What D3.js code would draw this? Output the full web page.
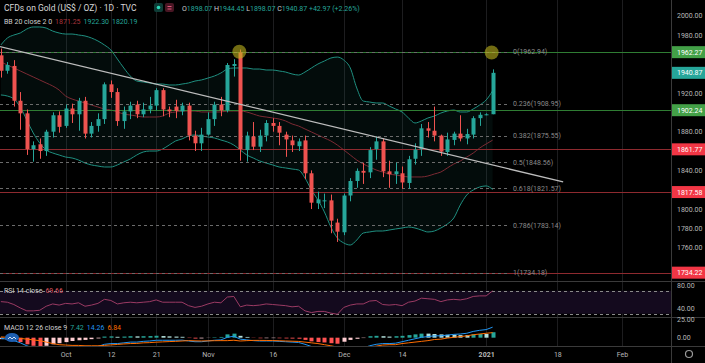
<!DOCTYPE html>
<html>
<head>
<meta charset="utf-8">
<script src="https://cdn.jsdelivr.net/npm/d3@7"></script>
<style>
  html, body { margin: 0; padding: 0; background: #000; }
  svg { display: block; font-family: Roboto, "Liberation Sans", sans-serif; }
</style>
</head>
<body>
<div id="chart"></div>
<script>
// daily candles, Sep 17 2020 .. Jan 4 2021 (bar index = position)
const opens  = [1959,1943,1948,1912,1899,1862,1867,1860,1880,1897,1886,1904,1898,1912,1878,1886,1893,1929,1921,1891,
                1901,1908,1898,1903,1907,1923,1903,1906,1901,1907,1876,1868,1877,1893,1908,1902,1948,1962,1861,1875,
                1864.5,1876,1889,1886,1877,1871,1865,1871,1837,1806,1808,1809,1786,1776,1814,1829,1839.5,1838,1862,1870,
                1839,1836,1837,1827,1852,1862,1883.5,1881,1876,1859,1871.5,1878,1873,1877,1894,1898,1898.07];
const highs  = [1966,1952,1954,1921,1903,1870,1873,1882,1900,1901,1908,1909,1915,1916,1890,1899,1931,1933,1925,1906,
                1911,1912,1910,1916,1925,1925,1906,1913,1910,1910,1881,1884,1900,1911,1916,1951,1955,1965,1880,1890,
                1882,1892,1894,1890,1880,1876,1873,1876,1840,1818,1816,1815,1790,1816,1832,1842,1848,1864,1875,1873,
                1850,1848,1844,1855,1868,1888,1890,1906,1877,1879,1880,1897,1883,1896,1900,1899,1944.45];
const lows   = [1936,1940,1906,1882,1856,1849,1852,1855,1874,1879,1884,1889,1881,1873,1874,1880,1888,1915,1886,1883,
                1893,1894,1895,1899,1902,1896,1895,1894,1897,1871,1860,1860,1876,1886,1896,1900,1937,1850,1849,1861,
                1859,1870,1880,1866,1854,1859,1860,1831,1800,1800,1801,1775,1766,1773,1808,1822,1826,1832,1851,1833,
                1822,1826,1821,1821,1846,1855,1874,1870,1855,1855,1866,1870,1867,1873,1886,1897,1898.07];
const closes = [1943,1949,1912,1899,1862,1866,1860,1880,1897,1885,1904,1898,1912,1878,1886,1893,1929,1921,1891,1901,
                1907,1898,1903,1907,1923,1903,1901,1901.5,1907,1876,1868,1877,1893,1908,1902,1949,1950,1862,1876,1864.5,
                1876,1889,1886,1879,1872,1866,1870,1837,1806.6,1810,1809,1788,1776.6,1814,1829,1839.5,1837.6,1861,1870,1839,
                1836,1839,1827.5,1851.5,1861.5,1883.5,1881,1876,1859.4,1872,1878,1873,1877.6,1894,1897.5,1898,1940.87];

// Bollinger bands 20, 2
const bbUpper = [1969.7,1976.9,1980.0,1982.1,1986.2,1988.3,1988.3,1987.2,1984.1,1982.1,1981.0,1981.0,1980.0,1979.0,1976.9,1973.8,1969.7,1964.5,1955.2,1945.9,
                 1937.6,1932.4,1931.4,1930.4,1929.3,1929.3,1928.3,1928.3,1929.3,1930.4,1932.4,1933.5,1935.5,1937.6,1940.7,1944.8,1945.9,1945.9,1945.9,1944.8,
                 1944.8,1943.8,1943.8,1942.8,1941.7,1939.7,1938.6,1941.7,1945.9,1950.0,1953.1,1956.2,1957.2,1954.1,1945.9,1925.2,1911.7,1910.7,1909.7,1909.7,
                 1906.6,1903.5,1900.4,1894.2,1889.0,1891.1,1894.2,1896.2,1899.3,1901.4,1902.4,1900.4,1900.4,1903.5,1907.6,1912.8,1922.3];
const bbBasis = [1952.1,1949.0,1945.9,1942.8,1939.7,1936.6,1933.5,1930.4,1927.3,1923.1,1916.9,1913.8,1911.7,1909.7,1907.6,1905.5,1903.5,1902.4,1900.4,1898.3,
                 1897.3,1896.2,1895.2,1895.2,1895.2,1896.2,1899.3,1900.4,1901.4,1901.4,1901.4,1900.4,1900.4,1900.4,1900.4,1901.4,1901.4,1901.4,1900.4,1898.3,
                 1896.2,1895.2,1894.2,1893.1,1891.1,1888.0,1885.9,1882.8,1879.7,1876.6,1873.5,1870.4,1866.2,1861.1,1855.9,1850.7,1846.6,1843.5,1840.4,1838.3,
                 1836.3,1835.2,1834.2,1833.2,1833.2,1833.2,1834.2,1836.3,1838.3,1842.5,1846.6,1849.7,1853.8,1857.9,1863.1,1867.3,1871.25];
const bbLower = [1918.0,1916.9,1913.8,1905.5,1892.1,1878.7,1868.3,1861.1,1858.0,1855.9,1853.8,1852.8,1850.7,1847.6,1845.6,1844.5,1843.5,1843.5,1845.6,1848.7,
                 1851.8,1855.9,1859.0,1860.0,1860.0,1862.1,1866.2,1870.4,1872.5,1875.6,1876.6,1875.6,1874.5,1873.5,1871.4,1869.4,1866.2,1861.1,1855.9,1852.8,
                 1849.7,1847.6,1845.6,1843.5,1842.5,1841.4,1840.4,1832.1,1819.7,1809.4,1797.0,1781.4,1770.1,1764.9,1762.8,1768.0,1775.2,1776.3,1777.3,1777.3,
                 1778.3,1779.4,1780.4,1781.4,1780.4,1778.3,1776.3,1777.3,1780.4,1784.5,1790.8,1804.2,1814.5,1819.7,1822.8,1823.9,1820.19];

// RSI 14
const rsi = [51,50,46,40,35,35,36,43,47,45,48,47,49,43,45,48,55,53,47,49,
             50,49,50,51,54,50,50,50,50,44,41,43,47,50,49,59,60,42,45,44,
             45,47,46,45,44,42,43,35,32,34,34,31,29,41,45,47,47,52,53,46,
             45,46,44,50,52,57,56,55,51,54,55,54,56,60,61,61,69.66];

// MACD 12 26 9
const macd   = [-1,-2,-4,-7,-11,-14,-16,-17,-17,-17,-16,-15,-14,-14,-13,-12,-9,-8,-8,-7,
                -6,-6,-5,-4.5,-3.5,-3.5,-3.5,-3.5,-3.3,-4.5,-5.5,-5.5,-4.5,-3.5,-3,0.5,2,-2,-3,-4,
                -4.5,-4.5,-4.5,-5,-5.5,-6,-6.5,-9,-12,-14,-16,-18.5,-21,-19,-17,-15.5,-14,-11,-9,-8,
                -8,-7.5,-5.5,-3.5,-1.5,0.5,1.5,2.5,2.5,3.5,4.5,5,6,8.5,10,11,14.26];
const signal = [1,0.5,0,-1,-2,-3,-4,-6,-8,-9.5,-10,-10.5,-10.5,-11,-11,-11,-10.5,-9.8,-9.2,-8.5,
                -8,-7.8,-7,-6.7,-6.1,-5.7,-5.3,-5,-4.5,-4,-4.3,-4.5,-4.3,-4.1,-4,-4,-3.5,-4.5,-4,-3.7,
                -3.7,-3.8,-3.9,-4.2,-4.5,-4.8,-5.1,-6,-7,-8,-9.5,-11,-12.8,-13.5,-14,-14,-13.5,-13,-11.5,-10,
                -9.5,-9.5,-8,-7,-6,-5,-4,-2.5,-2,-0.5,0.5,1.5,2.5,4,5,6,6.84];
const hist   = [-2,-2.5,-4,-6,-9,-11,-12,-11,-9,-7.5,-6,-4.5,-3.5,-3,-2,-1,1.5,1.8,1.2,1.5,
                2,1.8,2,2.2,2.6,2.2,1.8,1.5,1.2,-0.5,-1.2,-1,-0.2,0.6,1,4.5,5.5,2.5,1,-0.3,
                -0.8,-0.7,-0.6,-0.8,-1,-1.2,-1.4,-3,-5,-6,-6.5,-7.5,-8.2,-5.5,-3,-1.5,-0.5,2,2.5,2,
                1.5,2,2.5,3.5,4.5,5.5,5.5,5,4.5,4,4,3.5,3.5,4.5,5,5,7.42];

// time axis
const tickLabels = ['Oct', '12', '21', 'Nov', '16', 'Dec', '14', '2021', '18', 'Feb'];
const tickIndex  = [10, 17, 24, 32, 42, 53, 62, 75, 86, 96];

// drawings
const fibRatios = ['0', '0.236', '0.382', '0.5', '0.618', '0.786', '1'];
const fibPrices = [1962.94, 1908.95, 1875.55, 1848.56, 1821.57, 1783.14, 1734.18];
const fibEndIdx = 78.7;
const greenLevels = [1962.27, 1902.24];
const redLevels = [1861.77, 1817.58, 1734.22];
const trendIdx = [-0.15, 86.9];
const trendPrice = [1968.1, 1828.0];
const markIdx = [36.85, 75.85];
const markPrice = [1962.7, 1961.9];
const lastPrice = 1940.87;

const W = 705, H = 363, plotR = 671;
const UP = '#26a69a', DOWN = '#ef5350';

const x = d3.scaleLinear().domain([0, 103.57]).range([0.9, plotR]);
const yP = d3.scaleLinear().domain([1725.6, 2016.2]).range([281, 0]);
const yR = d3.scaleLinear().domain([24.3, 86]).range([317, 281.5]);
const yM = d3.scaleLinear().domain([-11.3, 28.1]).range([346, 317]);
const idx = d3.range(closes.length);

const svg = d3.select('#chart').append('svg')
    .attr('width', W).attr('height', H)
    .style('background', '#000');

const defs = svg.append('defs');
defs.append('clipPath').attr('id', 'clipMain')
    .append('rect').attr('x', 0).attr('y', 0).attr('width', plotR).attr('height', 281);
defs.append('clipPath').attr('id', 'clipMacd')
    .append('rect').attr('x', 0).attr('y', 317.5).attr('width', plotR).attr('height', 28.5);

// vertical grid
svg.append('g').selectAll('line').data(tickIndex).join('line')
    .attr('x1', d => Math.round(x(d)) + 0.5).attr('x2', d => Math.round(x(d)) + 0.5)
    .attr('y1', 0).attr('y2', 346)
    .attr('stroke', '#1d1d1f').attr('stroke-width', 1);

// RSI band background
svg.append('rect')
    .attr('x', 0).attr('y', yR(70)).attr('width', plotR).attr('height', yR(30) - yR(70))
    .attr('fill', '#140a1e');

const main = svg.append('g').attr('clip-path', 'url(#clipMain)');

// BB fill + lines
main.append('path')
    .datum(idx)
    .attr('fill', 'rgba(38,166,154,0.07)')
    .attr('d', d3.area().x(i => x(i)).y0(i => yP(bbLower[i])).y1(i => yP(bbUpper[i])).curve(d3.curveMonotoneX));

const bbLine = arr => d3.line().x(i => x(i)).y(i => yP(arr[i])).curve(d3.curveMonotoneX);
[[bbUpper, '#1f8f80'], [bbLower, '#1f8f80'], [bbBasis, '#7c2a33']].forEach(([arr, col]) => {
    main.append('path').datum(idx)
        .attr('fill', 'none').attr('stroke', col).attr('stroke-width', 1)
        .attr('d', bbLine(arr));
});

// horizontal levels
main.selectAll('line.green').data(greenLevels).join('line')
    .attr('class', 'green')
    .attr('x1', 0).attr('x2', plotR)
    .attr('y1', d => Math.round(yP(d)) + 0.5).attr('y2', d => Math.round(yP(d)) + 0.5)
    .attr('stroke', '#2f7d33').attr('stroke-width', 1);
main.selectAll('line.red').data(redLevels).join('line')
    .attr('class', 'red')
    .attr('x1', 0).attr('x2', plotR)
    .attr('y1', d => Math.round(yP(d)) + 0.5).attr('y2', d => Math.round(yP(d)) + 0.5)
    .attr('stroke', '#8e2a2f').attr('stroke-width', 1);

// fib levels
main.selectAll('line.fib').data(fibPrices).join('line')
    .attr('class', 'fib')
    .attr('x1', 0).attr('x2', x(fibEndIdx))
    .attr('y1', d => Math.round(yP(d)) + 0.5).attr('y2', d => Math.round(yP(d)) + 0.5)
    .attr('stroke', '#6b6b6b').attr('stroke-width', 1).attr('stroke-dasharray', '3,3');
main.selectAll('text.fib').data(fibPrices).join('text')
    .attr('class', 'fib')
    .attr('x', x(fibEndIdx) + 3).attr('y', d => yP(d)).attr('dy', '0.35em')
    .attr('fill', '#8a8a8a').style('font-size', '7px')
    .text((d, i) => `${fibRatios[i]}(${d.toFixed(2)})`);

// candles
const candle = main.append('g').selectAll('g').data(idx).join('g');
candle.append('line')
    .attr('x1', i => Math.round(x(i)) + 0.5).attr('x2', i => Math.round(x(i)) + 0.5)
    .attr('y1', i => yP(highs[i])).attr('y2', i => yP(lows[i]))
    .attr('stroke', i => closes[i] >= opens[i] ? UP : DOWN).attr('stroke-width', 1);
candle.append('rect')
    .attr('x', i => Math.round(x(i)) - 1.5).attr('width', 4)
    .attr('y', i => yP(Math.max(opens[i], closes[i])))
    .attr('height', i => Math.max(1, Math.abs(yP(opens[i]) - yP(closes[i]))))
    .attr('fill', i => closes[i] >= opens[i] ? UP : DOWN);

// trend line
main.append('line')
    .attr('x1', x(trendIdx[0])).attr('y1', yP(trendPrice[0]))
    .attr('x2', x(trendIdx[1])).attr('y2', yP(trendPrice[1]))
    .attr('stroke', '#bdbdbd').attr('stroke-width', 1.3);

// highlight circles
main.selectAll('circle.mark').data(markIdx).join('circle')
    .attr('class', 'mark')
    .attr('cx', d => x(d)).attr('cy', (d, i) => yP(markPrice[i])).attr('r', 7)
    .attr('fill', 'rgba(190,180,30,0.6)');

// RSI pane
svg.selectAll('line.rsiband').data([70, 30]).join('line')
    .attr('class', 'rsiband')
    .attr('x1', 0).attr('x2', plotR)
    .attr('y1', d => Math.round(yR(d)) + 0.5).attr('y2', d => Math.round(yR(d)) + 0.5)
    .attr('stroke', '#8a8a8a').attr('stroke-dasharray', '3,3');
svg.append('path').datum(idx)
    .attr('fill', 'none').attr('stroke', '#9b3a63').attr('stroke-width', 1)
    .attr('d', d3.line().x(i => x(i)).y(i => yR(rsi[i])));

// MACD pane
const mg = svg.append('g').attr('clip-path', 'url(#clipMacd)');
mg.selectAll('rect').data(idx).join('rect')
    .attr('x', i => Math.round(x(i)) - 1.5).attr('width', 4)
    .attr('y', i => Math.min(yM(0), yM(hist[i])))
    .attr('height', i => Math.abs(yM(hist[i]) - yM(0)))
    .attr('fill', i => {
        const prev = i > 0 ? hist[i - 1] : hist[i];
        if (hist[i] >= 0) return hist[i] > prev ? '#26a69a' : '#b2dfdb';
        return hist[i] < prev ? '#ff5252' : '#ffcdd2';
    });
mg.append('path').datum(idx)
    .attr('fill', 'none').attr('stroke', '#2196f3').attr('stroke-width', 1)
    .attr('d', d3.line().x(i => x(i)).y(i => yM(macd[i])));
mg.append('path').datum(idx)
    .attr('fill', 'none').attr('stroke', '#ff6d00').attr('stroke-width', 1)
    .attr('d', d3.line().x(i => x(i)).y(i => yM(signal[i])));

// pane separators and right border
svg.selectAll('line.sep').data([281.5, 317.5, 346.5]).join('line')
    .attr('class', 'sep')
    .attr('x1', 0).attr('x2', W).attr('y1', d => d).attr('y2', d => d)
    .attr('stroke', '#3a3a3a');
svg.append('line')
    .attr('x1', plotR + 0.5).attr('x2', plotR + 0.5).attr('y1', 0).attr('y2', H)
    .attr('stroke', '#3a3a3a');

// price tags (drawn over the price scale)
const tags = [
    ...greenLevels.map(v => ({ v, c: '#43a047' })),
    { v: lastPrice, c: UP },
    ...redLevels.map(v => ({ v, c: '#f23645' }))
];

// right axes; scale labels hidden under a tag are left out, as on the chart
const axisStyle = g => {
    g.select('.domain').remove();
    g.selectAll('text').attr('fill', '#b8b8b8').style('font-size', '7px')
        .style('font-family', 'Roboto, "Liberation Sans", sans-serif');
};
const priceTicks = d3.range(1740, 2001, 20)
    .filter(v => tags.every(t => Math.abs(yP(v) - yP(t.v)) > 9));
svg.append('g').attr('transform', `translate(${plotR + 1},0)`)
    .call(d3.axisRight(yP).tickValues(priceTicks).tickFormat(d3.format('.2f')).tickSize(0).tickPadding(5))
    .call(axisStyle);
svg.append('g').attr('transform', `translate(${plotR + 1},0)`)
    .call(d3.axisRight(yR).tickValues([80, 40]).tickFormat(d3.format('.2f')).tickSize(0).tickPadding(5))
    .call(axisStyle);
svg.append('g').attr('transform', `translate(${plotR + 1},0)`)
    .call(d3.axisRight(yM).tickValues([25, 0]).tickFormat(d3.format('.2f')).tickSize(0).tickPadding(5))
    .call(axisStyle);

const tag = svg.append('g').selectAll('g').data(tags).join('g')
    .attr('transform', d => `translate(${plotR + 1},${yP(d.v)})`);
tag.append('rect').attr('x', 0).attr('y', -6).attr('width', W - plotR - 1).attr('height', 12).attr('fill', d => d.c);
tag.append('text').attr('x', 5).attr('dy', '0.35em').attr('fill', '#fff')
    .style('font-size', '7px').text(d => d.v.toFixed(2));

// time axis
svg.append('g').attr('transform', 'translate(0,346)')
    .call(d3.axisBottom(x).tickValues(tickIndex).tickFormat((d, i) => tickLabels[i]).tickSize(0).tickPadding(6))
    .call(g => {
        g.select('.domain').remove();
        g.selectAll('text').attr('fill', '#b8b8b8').style('font-size', '7px')
            .style('font-family', 'Roboto, "Liberation Sans", sans-serif')
            .style('font-weight', (d, i) => tickLabels[i] === '2021' ? 'bold' : 'normal');
    });

// gear icon
svg.append('circle').attr('cx', 689).attr('cy', 354).attr('r', 3.5)
    .attr('fill', 'none').attr('stroke', '#9a9a9a').attr('stroke-width', 1.2);

// legends
const legend = (xPos, yPos, parts, size) => {
    const t = svg.append('text').attr('x', xPos).attr('y', yPos).style('font-size', size);
    parts.forEach(([s, c], k) => t.append('tspan').attr('fill', c).attr('dx', k ? 3 : 0).text(s));
    return t;
};
legend(4, 11, [['CFDs on Gold (US$ / OZ) · 1D · TVC', '#d8d8d8']], '8.5px');

svg.append('rect').attr('x', 154).attr('y', 3).attr('width', 9).attr('height', 9).attr('rx', 2).attr('fill', '#0e3d37');
svg.append('circle').attr('cx', 158.5).attr('cy', 7.5).attr('r', 1.8).attr('fill', '#2bd9b8');
svg.append('rect').attr('x', 165).attr('y', 3).attr('width', 9).attr('height', 9).attr('rx', 2).attr('fill', '#4a1624');
svg.append('rect').attr('x', 167.5).attr('y', 6).attr('width', 4).attr('height', 1).attr('fill', '#e0567a');
svg.append('rect').attr('x', 167.5).attr('y', 8.5).attr('width', 4).attr('height', 1).attr('fill', '#e0567a');

const ohlc = svg.append('text').attr('x', 182).attr('y', 10.5).style('font-size', '7px');
[['O', '#cfcfcf'], [opens[76].toFixed(2), UP], [' H', '#cfcfcf'], [highs[76].toFixed(2), UP],
 [' L', '#cfcfcf'], [lows[76].toFixed(2), UP], [' C', '#cfcfcf'], [closes[76].toFixed(2), UP],
 [' +42.97 (+2.26%)', UP]].forEach(([s, c]) => ohlc.append('tspan').attr('fill', c).text(s));

legend(4, 24, [['BB 20 close 2 0', '#d0d0d0'], [bbBasis[76].toFixed(2), '#a8343c'],
    [bbUpper[76].toFixed(2), UP], [bbLower[76].toFixed(2), UP]], '7px');
legend(4, 293, [['RSI 14 close', '#d0d0d0'], [rsi[76].toFixed(2), '#d8505e']], '7px');
legend(4, 329.5, [['MACD 12 26 close 9', '#d0d0d0'], [hist[76].toFixed(2), UP],
    [macd[76].toFixed(2), '#2196f3'], [signal[76].toFixed(2), '#ff6d00']], '7px');

// collapse icon in MACD pane
svg.append('ellipse').attr('cx', 12).attr('cy', 337.5).attr('rx', 7).attr('ry', 4.5).attr('fill', '#1e5fb0');
svg.append('path').attr('d', 'M8,339 l2,-2 l2,2 M12,339 l2,-2 l2,2')
    .attr('fill', 'none').attr('stroke', '#fff').attr('stroke-width', 0.8);
</script>
</body>
</html>
